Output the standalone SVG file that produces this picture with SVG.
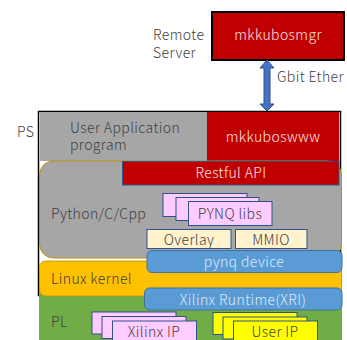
<svg xmlns="http://www.w3.org/2000/svg" width="347" height="340" viewBox="0 0 347 340">
<style>
text{font-family:"Noto Sans CJK JP","Noto Sans",sans-serif;font-size:14px;font-weight:300;letter-spacing:0.4px;fill:#404040}
.lt{fill:#FBE5E5}
.bt{fill:#DEEBF7}
.c{text-anchor:middle}
.red{fill:#C00000}
.pink{fill:#FFCCFF;stroke:#2F528F;stroke-width:1}
.yel{fill:#FFFF00;stroke:#2F528F;stroke-width:1}
.cream{fill:#FFF2CC;stroke:#2F528F;stroke-width:1}
.blue{fill:#5B9BD5;stroke:#41719C;stroke-width:1}
</style>
<rect width="347" height="340" fill="#fff"/>
<g id="remote-server">
<rect x="212" y="12" width="132" height="48" class="red" stroke="#000" stroke-width="2"/>
<text x="278" y="40" class="lt c">mkkubosmgr</text>
<text x="153" y="40">Remote</text>
<text x="153" y="58">Server</text>
</g>
<g id="ps">
<rect x="38.5" y="111.5" width="302" height="184" fill="#fff" stroke="#000" stroke-width="1.5"/>
<text x="17" y="137">PS</text>
</g>
<g id="pl">
<rect x="39" y="290" width="303" height="52" fill="#70AD47"/>
<text x="51" y="327">PL</text>
</g>
<g id="user-app">
<rect x="40" y="112" width="167" height="49" fill="#A6A6A6"/>
<text x="70" y="133">User Application</text>
<text x="70" y="150">program</text>
</g>
<g id="mkkuboswww">
<rect x="207" y="112" width="132" height="49" class="red"/>
<text x="273" y="142" class="lt c">mkkuboswww</text>
</g>
<g id="python">
<rect x="39.5" y="161" width="302" height="97" rx="14" fill="#A6A6A6" stroke="#BF9000" stroke-width="1"/>
<text x="51" y="219">Python/C/Cpp</text>
</g>
<g id="restful-api">
<rect x="122.5" y="161.5" width="216.5" height="23.5" class="red" stroke="#2F528F" stroke-width="1"/>
<text x="231" y="178" class="lt c">Restful API</text>
</g>
<g id="pynq-libs">
<rect x="163" y="193.5" width="84" height="23" class="pink"/>
<rect x="176" y="197.5" width="83" height="23" class="pink"/>
<rect x="188.5" y="201.5" width="83.5" height="24" class="pink"/>
<text x="230" y="219" class="c">PYNQ libs</text>
</g>
<g id="overlay">
<rect x="147" y="229.5" width="84" height="19" class="cream"/>
<text x="189" y="245" class="c">Overlay</text>
</g>
<g id="mmio">
<rect x="235.5" y="229.5" width="71.5" height="19" class="cream"/>
<text x="271" y="245" class="c">MMIO</text>
</g>
<g id="linux-kernel">
<rect x="39.5" y="261" width="302" height="35" rx="6" fill="#FFC000" stroke="#BF9000" stroke-width="0.8"/>
<text x="51" y="284">Linux kernel</text>
</g>
<g id="pynq-device">
<rect x="147" y="250.5" width="195" height="22" rx="5" class="blue"/>
<text x="244" y="267" class="bt c">pynq device</text>
</g>
<g id="xrt">
<rect x="144.5" y="288" width="197.5" height="22" rx="5" class="blue"/>
<text x="243" y="305" class="bt c">Xilinx Runtime(XRI)</text>
</g>
<g id="xilinx-ip">
<rect x="92" y="312" width="84" height="22" class="pink"/>
<rect x="102" y="316.5" width="84" height="22" class="pink"/>
<rect x="112.5" y="321" width="84" height="24" class="pink"/>
<text x="154" y="337" class="c">Xilinx IP</text>
</g>
<g id="user-ip">
<rect x="213" y="312.5" width="84" height="22" class="yel"/>
<rect x="223" y="317" width="84" height="22" class="yel"/>
<rect x="233.5" y="321" width="84" height="24" class="yel"/>
<text x="275" y="337" class="c">User IP</text>
</g>
<g id="connectors">
<polygon points="267,60 274,68 270,68 270,104 274,104 267,111 260,104 264,104 264,68 260,68" fill="#4472C4" stroke="#2F528F" stroke-width="1"/>
<text x="277" y="82">Gbit Ether</text>
</g>
</svg>
